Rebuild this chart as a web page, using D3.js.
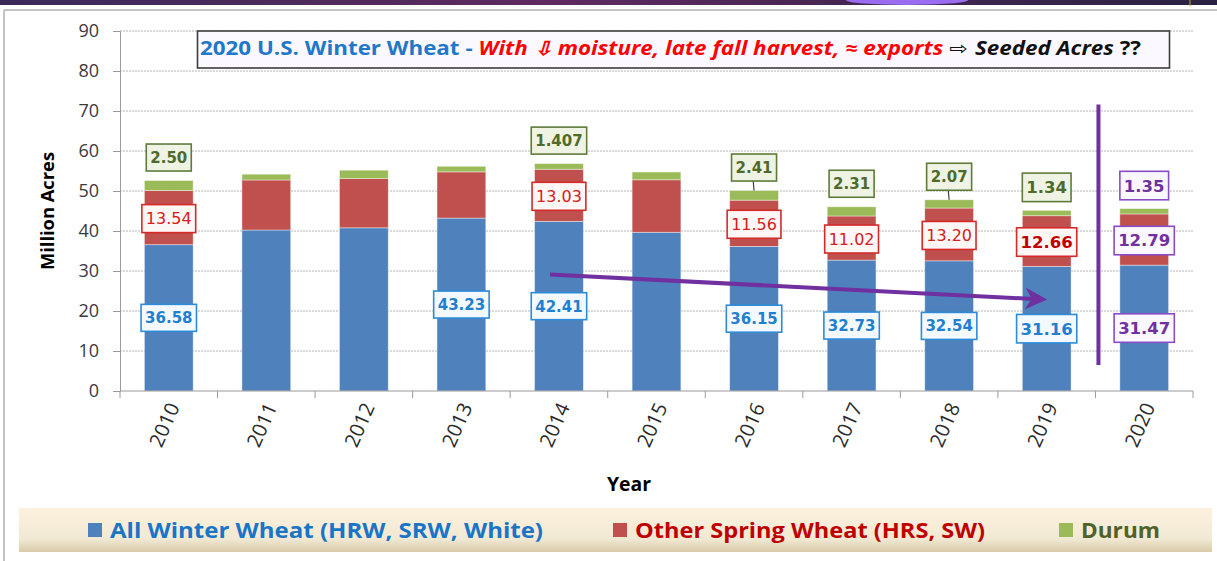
<!DOCTYPE html>
<html>
<head>
<script src="https://d3js.org/d3.v7.min.js"></script>
<style>
  body { margin: 0; background: #fff; }
  svg { display: block; }
</style>
</head>
<body>
<div id="chart"></div>
<script>
// ---- data ----
var years  = ["2010","2011","2012","2013","2014","2015","2016","2017","2018","2019","2020"];
var winter = [36.58, 40.25, 40.80, 43.23, 42.41, 39.68, 36.15, 32.73, 32.54, 31.16, 31.47];
var spring = [13.54, 12.50, 12.30, 11.55, 13.03, 13.12, 11.56, 11.02, 13.20, 12.66, 12.79];
var durum  = [ 2.50,  1.45,  2.10,  1.40, 1.407,  1.94,  2.41,  2.31,  2.07,  1.34,  1.35];

var winterLabels = ["36.58", null, null, "43.23", "42.41", null, "36.15", "32.73", "32.54", "31.16", "31.47"];
var springLabels = ["13.54", null, null, null, "13.03", null, "11.56", "11.02", "13.20", "12.66", "12.79"];
var durumLabels  = ["2.50", null, null, null, "1.407", null, "2.41", "2.31", "2.07", "1.34", "1.35"];
var leaderYears  = ["2016", "2018"];
var yTicks = [0,10,20,30,40,50,60,70,80,90];

var seriesNames  = ["All Winter Wheat (HRW, SRW, White)", "Other Spring Wheat (HRS, SW)", "Durum"];
var seriesColors = ["#4f81bd", "#c0504d", "#9bbb59"];

var W = 1217, H = 561;
var margin = {left: 120, top: 31, right: 24, bottom: 170};

var svg = d3.select("#chart").append("svg")
    .attr("width", W).attr("height", H);

var defs = svg.append("defs");

// ---- slide frame ----
var topGrad = defs.append("linearGradient").attr("id", "topGrad");
topGrad.append("stop").attr("offset", "0%").attr("stop-color", "#3a2a58");
topGrad.append("stop").attr("offset", "45%").attr("stop-color", "#5e2a60");
topGrad.append("stop").attr("offset", "100%").attr("stop-color", "#2a2242");
svg.append("rect").attr("x", 0).attr("y", 0).attr("width", W).attr("height", 5).attr("fill", "url(#topGrad)");
svg.append("ellipse").attr("cx", 907).attr("cy", 0).attr("rx", 61).attr("ry", 5).attr("fill", "#9a6cf0");
svg.append("line").attr("x1", 1190).attr("x2", 1190).attr("y1", 0).attr("y2", 6).attr("stroke", "#c8a040").attr("stroke-width", 1);
svg.append("line").attr("x1", 4).attr("x2", W).attr("y1", 10).attr("y2", 10).attr("stroke", "#b0b0b0").attr("stroke-width", 1.5);
svg.append("line").attr("x1", 4).attr("x2", 4).attr("y1", 10).attr("y2", H).attr("stroke", "#b0b0b0").attr("stroke-width", 1.5);

// ---- scales ----
var x = d3.scaleBand().domain(years).range([margin.left, W - margin.right]).paddingInner(0.5).paddingOuter(0.25);
var xb = d3.scaleBand().domain(years).range([margin.left, W - margin.right]);
var y = d3.scaleLinear().domain([0, 90]).range([H - margin.bottom, margin.top]);

// gridlines
svg.append("g").selectAll("line").data(yTicks.filter(function(d){ return d > 0; }))
  .enter().append("line")
  .attr("x1", margin.left).attr("x2", W - margin.right)
  .attr("y1", function(d){ return y(d); }).attr("y2", function(d){ return y(d); })
  .attr("stroke", "#b4b4b4").attr("stroke-width", 1).attr("stroke-dasharray", "2,1");

// ---- stacked bars ----
var rows = years.map(function(yr, i){ return {year: yr, winter: winter[i], spring: spring[i], durum: durum[i]}; });
var stack = d3.stack().keys(["winter", "spring", "durum"]);
var layers = stack(rows);

svg.append("g").selectAll("g").data(layers).enter().append("g")
  .attr("fill", function(d, i){ return seriesColors[i]; })
  .selectAll("rect").data(function(d){ return d; }).enter().append("rect")
  .attr("x", function(d){ return x(d.data.year); })
  .attr("width", x.bandwidth())
  .attr("y", function(d){ return y(d[1]); })
  .attr("height", function(d){ return y(d[0]) - y(d[1]); })
  .attr("stroke", "#ffffff").attr("stroke-opacity", 0.5).attr("stroke-width", 0.8);

// ---- axes ----
var yAxis = svg.append("g").attr("transform", "translate(" + margin.left + ",0)")
  .call(d3.axisLeft(y).tickValues(yTicks).tickSize(7).tickPadding(14));
yAxis.select(".domain").attr("stroke", "#9a9a9a");
yAxis.selectAll(".tick line").attr("stroke", "#9a9a9a");
yAxis.selectAll(".tick text").attr("font-family", "'Open Sans', sans-serif").attr("font-size", 18).attr("fill", "#3a3a3a");

var xAxisG = svg.append("g").attr("transform", "translate(0," + y(0) + ")");
xAxisG.append("line").attr("x1", margin.left).attr("x2", W - margin.right)
  .attr("stroke", "#9a9a9a").attr("stroke-width", 1.2);
xAxisG.selectAll("line.tk").data(years.concat(["end"])).enter().append("line").attr("class", "tk")
  .attr("x1", function(d){ return d === "end" ? W - margin.right : xb(d); })
  .attr("x2", function(d){ return d === "end" ? W - margin.right : xb(d); })
  .attr("y1", 0).attr("y2", 7).attr("stroke", "#9a9a9a");
xAxisG.selectAll("text").data(years).enter().append("text")
  .attr("transform", function(d){ return "translate(" + (x(d) + x.bandwidth()/2 + 5) + ",13) rotate(-66)"; })
  .attr("text-anchor", "end").attr("dy", "0.35em")
  .attr("font-family", "'Open Sans', sans-serif").attr("font-size", 20).attr("fill", "#2a2a2a")
  .text(function(d){ return d; });

svg.append("text").attr("x", 629).attr("y", 491).attr("text-anchor", "middle")
  .attr("font-family", "'Open Sans', sans-serif").attr("font-weight", "bold").attr("font-size", 19)
  .attr("textLength", 44).attr("lengthAdjust", "spacingAndGlyphs")
  .text("Year");

svg.append("text").attr("transform", "translate(54,211) rotate(-90)").attr("text-anchor", "middle")
  .attr("font-family", "'Open Sans', sans-serif").attr("font-weight", "bold").attr("font-size", 18)
  .attr("textLength", 118).attr("lengthAdjust", "spacingAndGlyphs")
  .text("Million Acres");

// ---- annotations: trend arrow and divider ----
defs.append("marker").attr("id", "arrowHead").attr("viewBox", "0 0 10 10")
  .attr("refX", 8).attr("refY", 5).attr("markerWidth", 5.5).attr("markerHeight", 5.5)
  .attr("orient", "auto").attr("markerUnits", "strokeWidth")
  .append("path").attr("d", "M0,0 L10,5 L0,10 L3,5 Z").attr("fill", "#7030a0");

svg.append("line")
  .attr("x1", x("2014") + x.bandwidth()/2 - 9).attr("y1", y(29.1))
  .attr("x2", x("2019") + x.bandwidth()/2 - 4).attr("y2", y(22.9))
  .attr("stroke", "#7030a0").attr("stroke-width", 4).attr("marker-end", "url(#arrowHead)");

svg.append("line")
  .attr("x1", xb("2020") + 3).attr("x2", xb("2020") + 3)
  .attr("y1", y(71.6)).attr("y2", y(6.5))
  .attr("stroke", "#7030a0").attr("stroke-width", 4);

// ---- data labels ----
var labelFont = "'DejaVu Sans', Verdana, sans-serif";
function labelStyle(kind, year) {
  if (year === "2020") return {fill: "#fbf7ff", stroke: "#8a4cc2", color: "#7030a0", size: 16.5, weight: "bold"};
  var big = year === "2019";
  if (kind === "winter") return {fill: "#f3f9ff", stroke: "#2e8bd6", color: "#1f7fd0", size: big ? 16.5 : 15, weight: "bold"};
  if (kind === "spring") return big
      ? {fill: "#fff6f6", stroke: "#d42a2a", color: "#c00000", size: 16.5, weight: "bold"}
      : {fill: "#fff6f6", stroke: "#d42a2a", color: "#d42020", size: 16, weight: "normal"};
  return {fill: "#eff3e4", stroke: "#5f7b3a", color: "#4f6a2a", size: big ? 16.5 : 15, weight: "bold"};
}

var labels = [];
years.forEach(function(yr, i){
  var cx = x(yr) + x.bandwidth()/2;
  var top = winter[i] + spring[i] + durum[i];
  if (winterLabels[i]) labels.push({kind: "winter", year: yr, cx: cx, cy: y(winter[i]/2), text: winterLabels[i]});
  if (springLabels[i]) labels.push({kind: "spring", year: yr, cx: cx, cy: y(winter[i] + spring[i]/2) + 1, text: springLabels[i]});
  if (durumLabels[i]) labels.push({kind: "durum", year: yr, cx: cx, cy: y(top) - 23, text: durumLabels[i], topY: y(top)});
});

// leader lines first
svg.append("g").selectAll("line").data(labels.filter(function(d){ return d.kind === "durum" && leaderYears.indexOf(d.year) >= 0; }))
  .enter().append("line")
  .attr("x1", function(d){ return d.cx - 1; }).attr("x2", function(d){ return d.cx; })
  .attr("y1", function(d){ return d.cy + 12; }).attr("y2", function(d){ return d.topY; })
  .attr("stroke", "#404040").attr("stroke-width", 1.2);

var lg = svg.append("g").selectAll("g").data(labels).enter().append("g")
  .attr("transform", function(d){ return "translate(" + d.cx + "," + d.cy + ")"; });
lg.each(function(d){
  var g = d3.select(this), s = labelStyle(d.kind, d.year);
  var rect = g.append("rect");
  var t = g.append("text").attr("text-anchor", "middle").attr("dy", "0.36em")
    .attr("font-family", labelFont).attr("font-size", s.size).attr("font-weight", s.weight)
    .attr("fill", s.color).text(d.text);
  var w = t.node().getComputedTextLength() + 8, h = s.size + 12;
  rect.attr("x", -w/2).attr("y", -h/2).attr("width", w).attr("height", h)
    .attr("fill", s.fill).attr("stroke", s.stroke).attr("stroke-width", 1.6);
});

// ---- title box ----
svg.append("rect").attr("x", 197.5).attr("y", 31).attr("width", 972).attr("height", 37)
  .attr("fill", "#fbf9ff").attr("stroke", "#3c3c3c").attr("stroke-width", 1.6);
var title = svg.append("text").attr("x", 200).attr("y", 55)
  .attr("font-family", "'Open Sans', sans-serif").attr("font-size", 19).attr("font-weight", "bold");
title.append("tspan").attr("fill", "#1f78c8").text("2020 U.S. Winter Wheat - ");
title.append("tspan").attr("fill", "#ff0000").attr("font-style", "italic").text("With \u21E9 moisture, late fall harvest, \u2248 exports ");
title.append("tspan").attr("fill", "#111").attr("font-family", "'DejaVu Sans', sans-serif").attr("font-weight", "normal").text("\u21E8 ");
title.append("tspan").attr("fill", "#111").attr("font-style", "italic").text("Seeded Acres ");
title.append("tspan").attr("fill", "#111").text("??");
var tw = title.node().getBBox().width;
var sx = 942 / tw;
title.attr("transform", "translate(200,0) scale(" + sx + ",1) translate(-200,0)");

// ---- legend ----
var legGrad = defs.append("linearGradient").attr("id", "legGrad").attr("x1", 0).attr("y1", 0).attr("x2", 0).attr("y2", 1);
legGrad.append("stop").attr("offset", "0%").attr("stop-color", "#fdf1dc");
legGrad.append("stop").attr("offset", "70%").attr("stop-color", "#f1e9d4");
legGrad.append("stop").attr("offset", "100%").attr("stop-color", "#d9cba9");
svg.append("rect").attr("x", 19).attr("y", 508).attr("width", 1193).attr("height", 44).attr("fill", "url(#legGrad)");

var legendTextColors = ["#1a75c7", "#c00000", "#4f6228"];
var legendSquareX = [88, 613, 1059];
var legendTextW = [433, 350, 79];
var legend = svg.append("g").selectAll("g").data(seriesNames).enter().append("g");
legend.append("rect")
  .attr("x", function(d, i){ return legendSquareX[i]; }).attr("y", 523)
  .attr("width", 14).attr("height", 14)
  .attr("fill", function(d, i){ return seriesColors[i]; });
legend.append("text")
  .attr("x", function(d, i){ return legendSquareX[i] + 22; }).attr("y", 538)
  .attr("font-family", "'Open Sans', sans-serif").attr("font-weight", "bold").attr("font-size", 21)
  .attr("fill", function(d, i){ return legendTextColors[i]; })
  .attr("textLength", function(d, i){ return legendTextW[i]; }).attr("lengthAdjust", "spacingAndGlyphs")
  .text(function(d){ return d; });
</script>
</body>
</html>
